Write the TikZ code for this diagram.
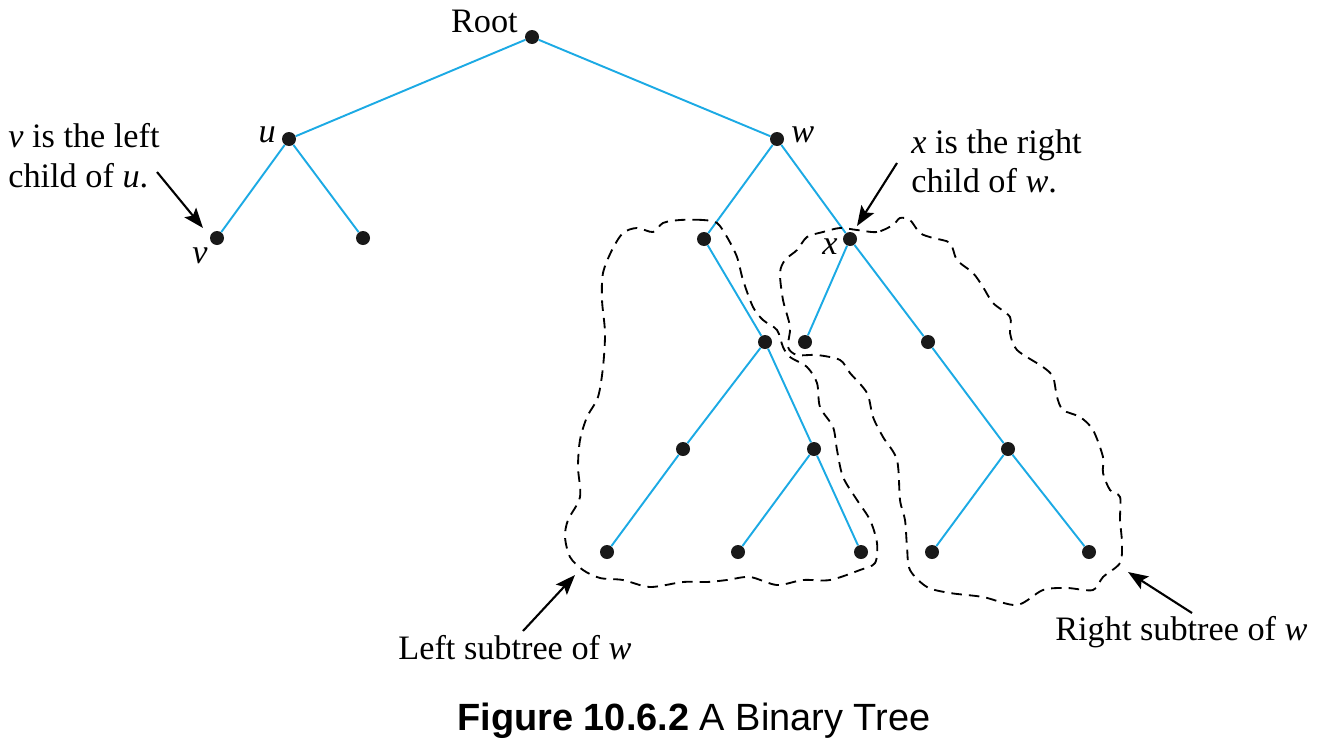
\documentclass[tikz,border=0pt]{standalone}
\usepackage{fontspec}
\setmainfont{Liberation Serif}
\newfontfamily\capfont{Liberation Sans}
\usetikzlibrary{arrows.meta,positioning}
\definecolor{treeblue}{RGB}{28,170,228}

\begin{document}
\begin{tikzpicture}[x=0.02cm, y=-0.02cm, >={Stealth[length=0.4cm,width=0.3cm,inset=0.08cm]},
  vert/.style={circle, fill=black!90, inner sep=0pt, minimum size=0.28cm},
  branch/.style={treeblue, line width=1.1pt},
  txt/.style={font=\fontsize{19.5}{23}\selectfont, inner sep=0pt},
  pointer/.style={->, line width=1.2pt},
  subtreeline/.style={line width=1.05pt, dash pattern=on 6pt off 4pt}]
\useasboundingbox (0,0) rectangle (1318,744);

% vertices
\node (R) [vert] at (532,37) {};
\node (U) [vert] at (289,139) {};
\node (W) [vert] at (777,139) {};
\node (V) [vert] at (217,238) {};
\node (U2) [vert] at (363,238) {};
\node (W1) [vert] at (704,239) {};
\node (X) [vert] at (850,239) {};
\node (A) [vert] at (765,342) {};
\node (X1) [vert] at (805,342) {};
\node (X2) [vert] at (928,342) {};
\node (B) [vert] at (683,449) {};
\node (C) [vert] at (814,449) {};
\node (D) [vert] at (1008,449) {};
\node (B1) [vert] at (607,552) {};
\node (C1) [vert] at (738,552) {};
\node (C2) [vert] at (861,552) {};
\node (D1) [vert] at (932,552) {};
\node (D2) [vert] at (1089,552) {};

\draw[branch] (R) -- (U);
\draw[branch] (R) -- (W);
\draw[branch] (U) -- (V);
\draw[branch] (U) -- (U2);
\draw[branch] (W) -- (W1);
\draw[branch] (W) -- (X);
\draw[branch] (W1) -- (A);
\draw[branch] (A) -- (B);
\draw[branch] (A) -- (C);
\draw[branch] (B) -- (B1);
\draw[branch] (C) -- (C1);
\draw[branch] (C) -- (C2);
\draw[branch] (X) -- (X1);
\draw[branch] (X) -- (X2);
\draw[branch] (X2) -- (D);
\draw[branch] (D) -- (D1);
\draw[branch] (D) -- (D2);

% vertex labels
\node (Rlab) [txt, anchor=base east] at (518,32) {Root};
\node (Ulab) [txt, anchor=base east] at (276,142) {\textit{u}};
\node (Wlab) [txt, anchor=base west] at (791,142) {\textit{w}};
\node (Vlab) [txt, anchor=base east] at (208,263) {\textit{v}};
\node (Xlab) [txt, anchor=base east] at (838,254) {\textit{x}};

% subtrees
\draw[subtreeline] plot[smooth cycle] coordinates {(717,223) (703,220) (680,220) (663,223) (653,232) (637,228) (623,233) (612,250) (603,273) (602,300) (605,333) (603,367) (598,397) (587,417) (580,440) (578,467) (580,497) (568,520) (565,537) (570,557) (583,570) (600,578) (623,580) (650,587) (683,582) (707,582) (727,580) (750,577) (777,585) (803,580) (830,580) (860,570) (875,563) (877,543) (870,520) (857,500) (843,477) (837,450) (833,427) (820,407) (817,383) (807,367) (790,357) (783,347) (777,330) (763,320) (753,307) (743,280) (737,257) (727,237)};
\draw[subtreeline] plot[smooth cycle] coordinates {(893,225) (877,232) (857,230) (840,228) (823,232) (807,237) (797,250) (785,260) (780,273) (783,300) (790,327) (788,347) (797,355) (817,355) (840,360) (850,373) (867,393) (873,417) (883,437) (897,460) (900,500) (905,520) (907,547) (910,570) (927,587) (950,593) (983,597) (1017,605) (1043,590) (1067,588) (1093,590) (1103,577) (1120,563) (1122,543) (1120,520) (1120,497) (1110,490) (1103,473) (1103,457) (1093,430) (1080,417) (1063,410) (1057,397) (1053,377) (1043,367) (1017,350) (1010,333) (1010,317) (993,303) (983,287) (973,273) (957,260) (950,243) (933,238) (920,233) (910,220) (900,218)};

% notes
\node (vnote1) [txt, anchor=base west] at (8,147) {\textit{v} is the left};
\node (vnote2) [txt, anchor=base west] at (8,187) {child of \textit{u}.};
\node (xnote1) [txt, anchor=base west] at (911,153) {\textit{x} is the right};
\node (xnote2) [txt, anchor=base west] at (911,192) {child of \textit{w}.};
\node (lnote) [txt, anchor=base west] at (398,659) {Left subtree of \textit{w}};
\node (rnote) [txt, anchor=base west] at (1055,640) {Right subtree of \textit{w}};
\coordinate (vtail) at (157,172);
\coordinate (vtip) at (203,228);
\coordinate (xtail) at (897,163);
\coordinate (xtip) at (857,226);
\coordinate (ltail) at (523,631);
\coordinate (ltip) at (575,575);
\coordinate (rtail) at (1192,613);
\coordinate (rtip) at (1128,572);
\draw[pointer] (vtail) -- (vtip);
\draw[pointer] (xtail) -- (xtip);
\draw[pointer] (ltail) -- (ltip);
\draw[pointer] (rtail) -- (rtip);

% caption
\node (cap) [anchor=base west, inner sep=0pt, font=\capfont\fontsize{21.6}{25}\selectfont] at (457,730) {\textbf{Figure 10.6.2} A Binary Tree};
\end{tikzpicture}
\end{document}
